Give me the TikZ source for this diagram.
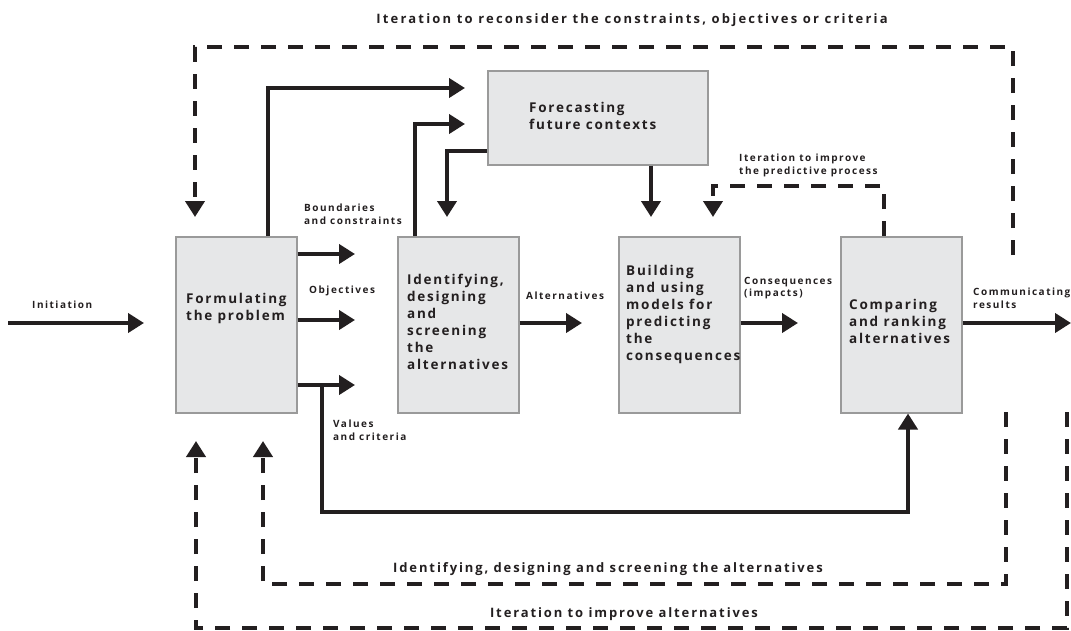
\documentclass[tikz,border=0pt]{standalone}
\usepackage{fontspec}
\setmainfont{Open Sans}
\newfontfamily\boxfont[LetterSpace=13]{Open Sans}
\newfontfamily\lblfont[LetterSpace=15]{Open Sans}
\newfontfamily\capfont[LetterSpace=14.5]{Open Sans}
\newfontfamily\titlefont[LetterSpace=17]{Open Sans}
\usetikzlibrary{arrows.meta}
\definecolor{ink}{HTML}{231F20}
\definecolor{boxfill}{HTML}{E6E7E8}
\definecolor{boxline}{HTML}{9A9A9A}
\begin{document}
\begin{tikzpicture}[x=1pt,y=-1pt,
  stage/.style={draw=boxline, line width=1.5pt, fill=boxfill, inner sep=0pt, anchor=north west, minimum width=121pt, minimum height=176pt},
  flow/.style={draw=ink, line width=4pt, -{Triangle[length=16pt,width=19pt]}},
  loop/.style={flow, dash pattern=on 15pt off 12pt},
  stagetext/.style={font=\boxfont\bfseries\fontsize{13.5}{17}\selectfont, text=ink, align=left, anchor=north west, inner sep=0pt},
  lbl/.style={font=\lblfont\bfseries\fontsize{10}{12.5}\selectfont, text=ink, align=left, anchor=north west, inner sep=0pt},
  captiontext/.style={font=\capfont\bfseries\fontsize{13}{16}\selectfont, text=ink, anchor=base, inner sep=0pt},
  titletext/.style={captiontext, font=\titlefont\bfseries\fontsize{13}{16}\selectfont}]
\useasboundingbox (0,0) rectangle (1071,630);

% boxes
\node[stage] (form) at (175,236) {};
\node[stage] (iden) at (397,236) {};
\node[stage] (build) at (618,236) {};
\node[stage] (comp) at (840,236) {};
\node[stage, minimum width=220pt, minimum height=94pt] (fore) at (487,70) {};

% box texts
\node[stagetext] (formtxt) at (186,293) {Formulating\\the problem};
\node[stagetext] (identxt) at (407,274) {Identifying,\\designing\\and\\screening\\the\\alternatives};
\node[stagetext] (buildtxt) at (626,265) {Building\\and using\\models for\\predicting\\the\\consequences};
\node[stagetext] (comptxt) at (849,299) {Comparing\\and ranking\\alternatives};
\node[stagetext] (foretxt) at (529,102) {Forecasting\\future contexts};

% small labels
\node[lbl] (bound) at (304,204) {Boundaries\\and constraints};
\node[lbl] (obj) at (309,286) {Objectives};
\node[lbl] (vals) at (333,420) {Values\\and criteria};
\node[lbl] (initl) at (32,301) {Initiation};
\node[lbl] (altl) at (526,292) {Alternatives};
\node[lbl] (consl) at (744,277) {Consequences\\(impacts)};
\node[lbl] (comml) at (973,288) {Communicating\\results};
\node[lbl] (predl) at (739,154) {Iteration to improve\\the predictive process};

% captions
\node[titletext] (title) at (632,23) {Iteration to reconsider the constraints, objectives or criteria};
\node[captiontext] (loop1) at (608,572) {Identifying, designing and screening the alternatives};
\node[captiontext] (loop2) at (624,617) {Iteration to improve alternatives};

% coordinates
\coordinate (initS) at (8,323);
\coordinate (initE) at (144,323);
\coordinate (bndE) at (355,254);
\coordinate (objE) at (355,320);
\coordinate (valE) at (355,385);
\coordinate (valB) at (322,385);
\coordinate (valLow) at (322,512);
\coordinate (valX) at (908,412);
\coordinate (formUp) at (268,88);
\coordinate (foreIn1) at (465,88);
\coordinate (idenUp) at (415,124);
\coordinate (foreIn2) at (465,124);
\coordinate (foreLeft) at (447,151);
\coordinate (idenIn) at (447,217);
\coordinate (buildIn) at (651,217);
\coordinate (predR) at (884,186);
\coordinate (predL) at (713,186);
\coordinate (buildIn2) at (713,217);
\coordinate (altE) at (582,323);
\coordinate (consE) at (798,323);
\coordinate (commE) at (1071,323);
\coordinate (topR0) at (1013,255);
\coordinate (topR) at (1013,47);
\coordinate (topL) at (195,47);
\coordinate (formIn) at (195,217);
\coordinate (inR0) at (1006,412);
\coordinate (inR) at (1006,584);
\coordinate (inL) at (263,584);
\coordinate (formIn2) at (263,441);
\coordinate (outR0) at (1067,412);
\coordinate (outR) at (1067,628);
\coordinate (outL) at (196,628);
\coordinate (formIn3) at (196,441);

% solid connectors
\draw[flow] (initS) -- (initE);
\draw[flow] (form.east |- bndE) -- (bndE);
\draw[flow] (form.east |- objE) -- (objE);
\draw[flow] (form.east |- valE) -- (valE);
\draw[flow] (valB) -- (valLow) -| (comp.south -| valX);
\draw[flow] (form.north -| formUp) -- (formUp) -- (foreIn1);
\draw[flow] (iden.north -| idenUp) -- (idenUp) -- (foreIn2);
\draw[flow] (fore.west |- foreLeft) -- (foreLeft) -- (idenIn);
\draw[flow] (fore.south -| buildIn) -- (buildIn);
\draw[flow] (iden.east |- altE) -- (altE);
\draw[flow] (build.east |- consE) -- (consE);
\draw[flow] (comp.east |- commE) -- (commE);

% dashed iterations
\draw[loop] (comp.north -| predR) -- (predR) -- (predL) -- (buildIn2);
\draw[loop] (topR0) -- (topR) -- (topL) -- (formIn);
\draw[loop] (inR0) -- (inR) -- (inL) -- (formIn2);
\draw[loop] (outR0) -- (outR) -- (outL) -- (formIn3);
\end{tikzpicture}
\end{document}
